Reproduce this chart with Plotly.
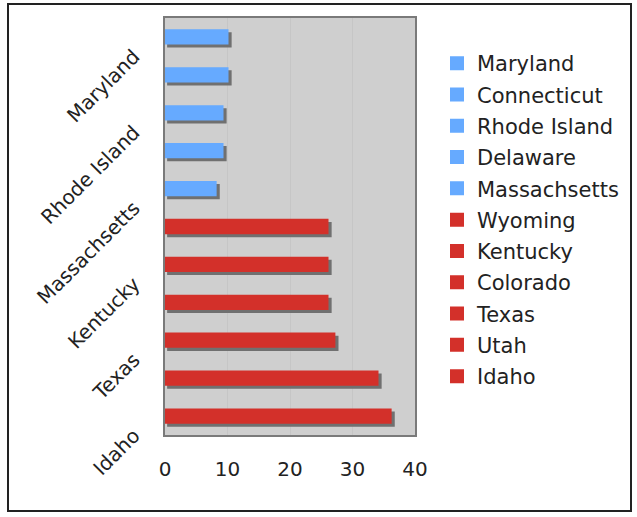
import plotly.graph_objects as go

states = ["Idaho", "Utah", "Texas", "Colorado", "Kentucky", "Wyoming",
          "Massachsetts", "Delaware", "Rhode Island", "Connecticut", "Maryland"]
values = [36.1, 34.0, 27.1, 26.0, 26.0, 26.0, 8.1, 9.2, 9.2, 10.0, 10.0]
groups = ["west", "west", "west", "west", "west", "west",
          "east", "east", "east", "east", "east"]
label_states = ["Idaho", "Texas", "Kentucky", "Massachsetts", "Rhode Island", "Maryland"]
x_ticks = [0, 10, 20, 30, 40]

colors = {"east": "#66AAFF", "west": "#D3302A"}
FONT = "DejaVu Sans, Verdana, sans-serif"

fig = go.Figure()

# shadows
fig.add_trace(go.Bar(
    y=states, x=values, base=0.5, orientation="h",
    marker=dict(color="#707070", line=dict(width=2, color="#707070")),
    width=0.35, offset=-0.255, showlegend=False, hoverinfo="skip"))

# bars, legend order Maryland..Idaho
for s, v, g in reversed(list(zip(states, values, groups))):
    fig.add_trace(go.Bar(
        y=[s], x=[v], orientation="h", name=s, legendgroup=s,
        marker=dict(color=colors[g], line=dict(width=2, color=colors[g])),
        width=0.35, offset=-0.175))

# helper trace for shifted tick labels axis
fig.add_trace(go.Scatter(x=[None], y=[None], yaxis="y2", showlegend=False,
                         hoverinfo="skip"))

n = len(states)
shift = 0.45
ml, mr, mt, mb = 165, 222, 18, 82
pw, ph = 637 - ml - mr, 517 - mt - mb
fig.update_layout(
    width=637, height=517,
    margin=dict(l=ml, r=mr, t=mt, b=mb, autoexpand=False),
    paper_bgcolor="white", plot_bgcolor="#CFCFCF",
    barmode="overlay",
    font=dict(family=FONT, size=20, color="#222222"),
    xaxis=dict(range=[0, 40], tickvals=x_ticks, showgrid=True,
               gridcolor="#C6C6C6", gridwidth=1, zeroline=False,
               showline=True, linecolor="#7A7A7A", linewidth=2, mirror=True,
               ticks="", ticklabelstandoff=15,
               tickfont=dict(size=20, color="#222222")),
    yaxis=dict(type="category", categoryorder="array", categoryarray=states,
               range=[-0.5, n - 0.5], showticklabels=False, showgrid=False,
               showline=True, linecolor="#7A7A7A", linewidth=2, mirror=True,
               ticks=""),
    yaxis2=dict(overlaying="y", side="left", range=[-0.5 + shift, n - 0.5 + shift],
                tickvals=[states.index(s) for s in label_states], ticktext=label_states,
                tickangle=-45, showgrid=False, zeroline=False, showline=False,
                ticks="", ticklabelstandoff=30,
                tickfont=dict(size=20, color="#222222")),
    legend=dict(x=(437 - ml) / pw, xanchor="left", y=1 - (43 - mt) / ph, yanchor="top",
                xref="paper", yref="paper", traceorder="grouped", tracegroupgap=1,
                font=dict(size=21, color="#222222"),
                bgcolor="rgba(0,0,0,0)"),
    shapes=[dict(type="rect", xref="paper", yref="paper",
                 x0=(8 - ml) / pw, x1=(631 - ml) / pw,
                 y0=-(511 - (mt + ph)) / ph, y1=1 + (mt - 4) / ph,
                 line=dict(color="#222222", width=2), layer="below")],
    showlegend=True,
)

fig.write_html("out.html", config={"displayModeBar": False},
               post_script="document.body.style.margin='0px';")
